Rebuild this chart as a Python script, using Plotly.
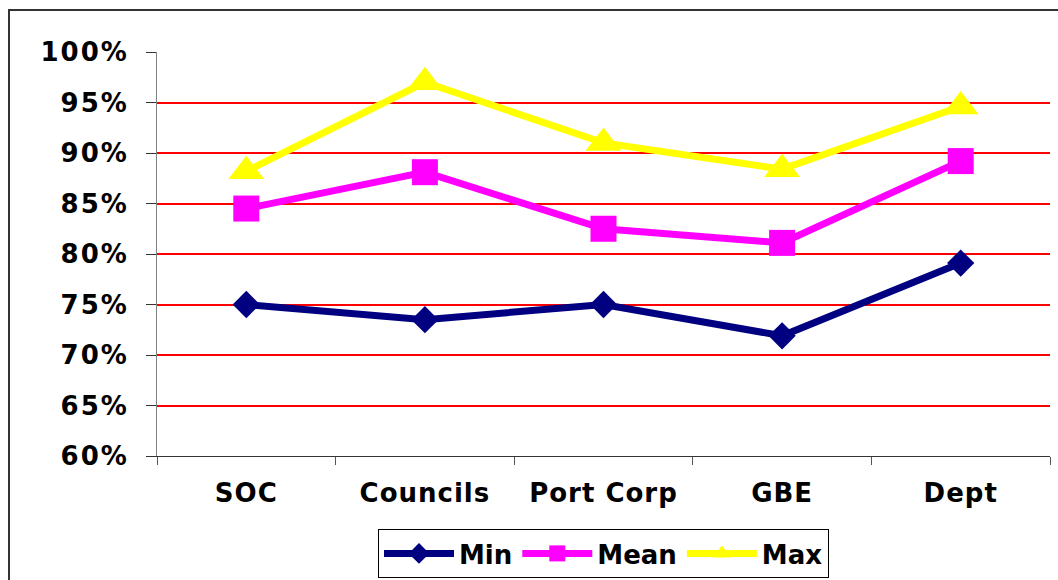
import plotly.graph_objects as go

categories = ["SOC", "Councils", "Port Corp", "GBE", "Dept"]
min_vals = [75.0, 73.5, 75.0, 71.9, 79.1]
mean_vals = [84.5, 88.1, 82.5, 81.1, 89.2]
max_vals = [88.2, 97.0, 91.0, 88.4, 94.6]
y_ticks = [60, 65, 70, 75, 80, 85, 90, 95, 100]
y_ticklabels = [f"{v}%" for v in y_ticks]

FONT = "Verdana, DejaVu Sans, sans-serif"

fig = go.Figure()
fig.add_trace(go.Scatter(
    x=categories, y=min_vals, name="Min", mode="lines+markers",
    line=dict(color="#000080", width=7),
    marker=dict(symbol="diamond", size=21, color="#000080"),
))
fig.add_trace(go.Scatter(
    x=categories, y=mean_vals, name="Mean", mode="lines+markers",
    line=dict(color="#FF00FF", width=7),
    marker=dict(symbol="square", size=26, color="#FF00FF"),
))
fig.add_trace(go.Scatter(
    x=categories, y=max_vals, name="Max", mode="lines+markers",
    line=dict(color="#FFFF00", width=7),
    marker=dict(symbol="triangle-up", size=31, color="#FFFF00"),
))

L, R, T, B = 157, 8, 52, 124
W, H = 1058, 580
pw, ph = W - L - R, H - T - B

fig.update_layout(
    width=W, height=H,
    margin=dict(l=L, r=R, t=T, b=B, pad=0, autoexpand=False),
    paper_bgcolor="white", plot_bgcolor="white",
    font=dict(family=FONT, size=26, color="black", weight="bold"),
    showlegend=True,
    legend=dict(
        orientation="h", x=0.5, xanchor="center",
        y=(456 - 578) / ph, yanchor="bottom",
        bordercolor="black", borderwidth=1, bgcolor="white",
        font=dict(family=FONT, size=26, color="black", weight="bold"),
        itemwidth=70, traceorder="normal",
    ),
    xaxis=dict(
        type="category", range=[-0.5, 4.5],
        showgrid=False, showline=True, linecolor="#333333", linewidth=1,
        ticks="outside", ticklen=8, tickcolor="#555555", tickwidth=1,
        tickson="boundaries", ticklabelstandoff=14,
        tickfont=dict(family=FONT, size=26, color="black", weight="bold"),
        fixedrange=True,
    ),
    yaxis=dict(
        range=[60, 100], tickmode="array", tickvals=y_ticks, ticktext=y_ticklabels,
        showgrid=True, gridcolor="#FF0000", gridwidth=2,
        zeroline=False, showline=True, linecolor="#808080", linewidth=1,
        ticks="outside", ticklen=10, tickcolor="#333333", tickwidth=1,
        ticklabelstandoff=12,
        tickfont=dict(family=FONT, size=26, color="black", weight="bold"),
        fixedrange=True,
    ),
    shapes=[dict(
        type="rect", xref="paper", yref="paper",
        x0=(9 - L) / pw, x1=(W + 30 - L) / pw,
        y0=(456 - (H + 30)) / ph, y1=(456 - 10) / ph,
        line=dict(color="#333333", width=2), fillcolor="rgba(0,0,0,0)",
        layer="below",
    )],
)

spacing_js = """
var gd = document.getElementById('{plot_id}');
gd.querySelectorAll('.ytick text').forEach(function(t){ t.style.letterSpacing = '2px'; });
gd.querySelectorAll('.xtick text').forEach(function(t){ t.style.letterSpacing = '1px'; });
"""

fig.write_html("out.html", post_script=spacing_js)
